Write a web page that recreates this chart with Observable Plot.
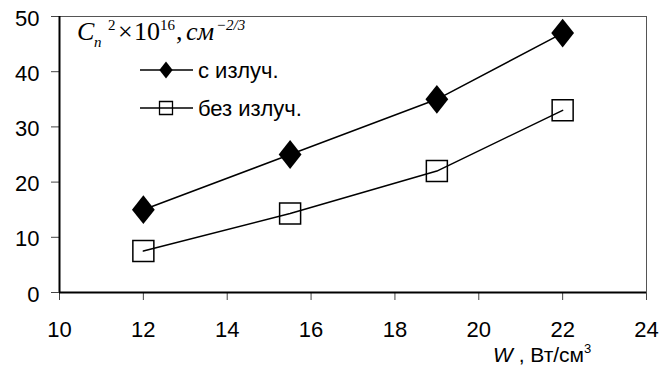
<!DOCTYPE html>
<html><head><meta charset="utf-8">
<script src="https://cdn.jsdelivr.net/npm/d3@7"></script>
<script src="https://cdn.jsdelivr.net/npm/@observablehq/plot@0.6"></script>
<style>
body{margin:0;background:#fff;}
#wrap{position:relative;width:659px;height:372px;overflow:hidden;}
#overlay{position:absolute;left:0;top:0;pointer-events:none;}
</style></head><body><div id="wrap"></div>
<script>
const W = [12, 15.5, 19, 22];
const withRad = [15, 25, 35, 47];
const withoutRad = [7.5, 14.3, 22, 33];
const xTicks = [10, 12, 14, 16, 18, 20, 22, 24];
const yTicks = [0, 10, 20, 30, 40, 50];
const seriesNames = ["с излуч.", "без излуч."];

const dataWith = W.map((w, i) => ({x: w, y: withRad[i]}));
const dataWithout = W.map((w, i) => ({x: w, y: withoutRad[i]}));

const diamond = {draw(ctx, size) {
  const r = Math.sqrt(size / Math.PI);
  const h = r * 1.2, w = r * 0.95;
  ctx.moveTo(0, -h); ctx.lineTo(w, 0); ctx.lineTo(0, h); ctx.lineTo(-w, 0); ctx.closePath();
}};
const square = {draw(ctx, size) {
  const r = Math.sqrt(size / Math.PI);
  ctx.rect(-r, -r, 2 * r, 2 * r);
}};

const font = "'Liberation Sans', Arial, sans-serif";
const chart = Plot.plot({
  width: 659, height: 372,
  marginLeft: 59, marginRight: 13, marginTop: 16, marginBottom: 80,
  style: {fontFamily: font, fontSize: "22px", color: "#000", background: "#fff"},
  x: {domain: [10, 24]},
  y: {domain: [0, 50]},
  marks: [
    Plot.frame({stroke: "#555", strokeWidth: 1}),
    Plot.axisX(xTicks, {tickSize: 8, tickPadding: 21, stroke: "#444", fontSize: 22, label: null}),
    Plot.axisY(yTicks, {tickSize: 8, stroke: "#444", tickFormat: () => "", label: null}),
    Plot.axisY(yTicks, {tickSize: 0, tickPadding: 20, fontSize: 22, dy: 2, label: null}),
    Plot.ruleX([10], {stroke: "#000", strokeWidth: 2}),
    Plot.ruleY([0], {stroke: "#000", strokeWidth: 2}),
    Plot.line(dataWith, {x: "x", y: "y", stroke: "#000", strokeWidth: 1.5}),
    Plot.line(dataWithout, {x: "x", y: "y", stroke: "#000", strokeWidth: 1.5}),
    Plot.dot(dataWith, {x: "x", y: "y", symbol: diamond, r: 12, fill: "#000", stroke: "none"}),
    Plot.dot(dataWithout, {x: "x", y: "y", symbol: square, r: 10.5, fill: "none", stroke: "#000", strokeWidth: 1.5})
  ]
});
const wrap = document.getElementById("wrap");
wrap.appendChild(chart);

const ov = d3.select(wrap).append("svg").attr("id", "overlay").attr("width", 659).attr("height", 372);
const serif = "'Liberation Serif', 'Times New Roman', serif";
// title: C_n^2 ×10^16, см^-2/3
const t = ov.append("text").attr("font-family", serif).attr("font-size", 26).attr("fill", "#000");
const parts = [
  {x: 77, y: 40, s: 26, it: true, txt: "C"},
  {x: 94, y: 47, s: 15, it: true, txt: "n"},
  {x: 108, y: 30, s: 15, it: false, txt: "2"},
  {x: 118, y: 40, s: 26, it: false, txt: "×"},
  {x: 134, y: 40, s: 26, it: false, txt: "10"},
  {x: 160, y: 30, s: 15, it: false, txt: "16"},
  {x: 176, y: 40, s: 26, it: false, txt: ","},
  {x: 186, y: 40, s: 26, it: true, txt: "см"},
  {x: 216, y: 30, s: 15, it: true, txt: "−2/3"}
];
parts.forEach(p => t.append("tspan").attr("x", p.x).attr("y", p.y).attr("font-size", p.s)
  .attr("font-style", p.it ? "italic" : "normal").text(p.txt));

// legend
const rows = [{y: 70, sym: diamond, r: 7, fill: "#000", sw: 0}, {y: 108, sym: square, r: 6.5, fill: "none", sw: 1.3}];
rows.forEach((row, i) => {
  ov.append("line").attr("x1", 140).attr("x2", 193).attr("y1", row.y).attr("y2", row.y).attr("stroke", "#000").attr("stroke-width", 1.5);
  ov.append("path").attr("transform", `translate(166,${row.y})`)
    .attr("d", d3.symbol(row.sym, Math.PI * row.r * row.r)())
    .attr("fill", row.fill).attr("stroke", "#000").attr("stroke-width", row.sw);
  ov.append("text").attr("x", 198).attr("y", row.y + 8).attr("font-family", font).attr("font-size", 22).text(seriesNames[i]);
});

// x axis label
const xl = ov.append("text").attr("x", 493).attr("y", 362).attr("font-family", font).attr("font-size", 21);
xl.append("tspan").attr("font-style", "italic").text("W");
xl.append("tspan").text(" , Вт/см");
xl.append("tspan").attr("font-size", 13).attr("dy", -9).text("3");
</script></body></html>
